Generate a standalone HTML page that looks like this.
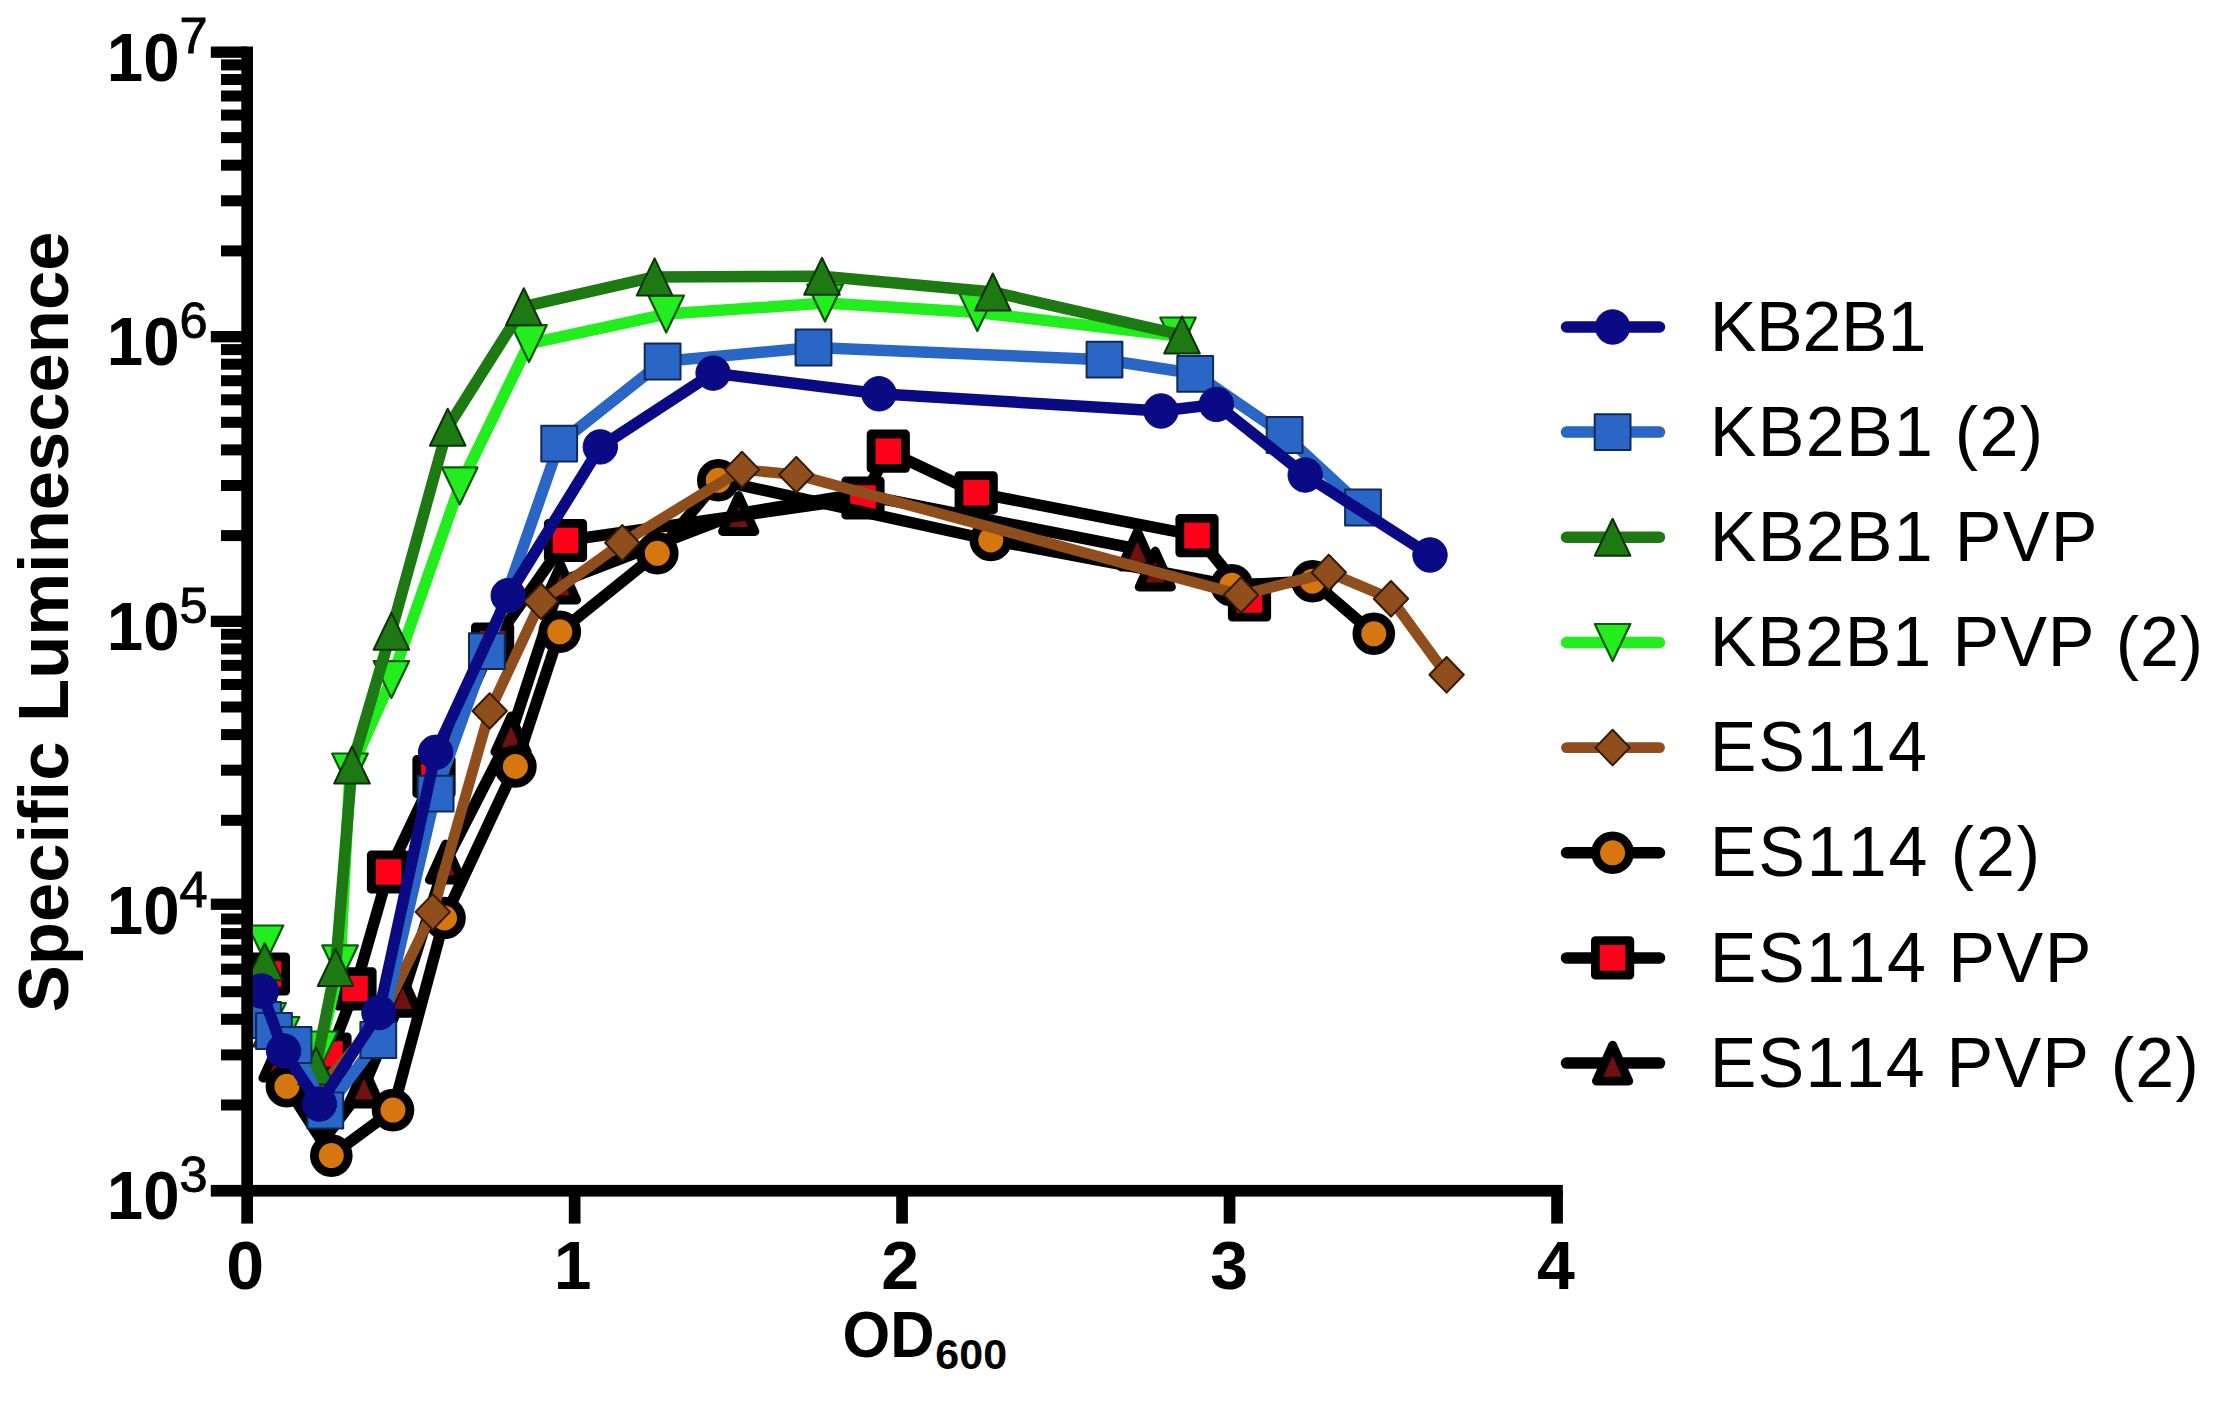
<!DOCTYPE html>
<html lang="en"><head><meta charset="utf-8"><title>Specific Luminescence vs OD600</title>
<style>html,body{margin:0;padding:0;background:#fff;}body{width:2217px;height:1404px;overflow:hidden;}svg{display:block;}text{font-family:"Liberation Sans",Arial,Helvetica,sans-serif;fill:#000;font-kerning:none;font-feature-settings:"kern" 0;}.b{font-weight:bold;}</style></head><body>
<svg width="2217" height="1404" viewBox="0 0 2217 1404">
<rect x="0" y="0" width="2217" height="1404" fill="#ffffff"/>
<g id="series">
<g>
<polyline fill="none" stroke="#000000" stroke-width="11.5" stroke-linejoin="round" stroke-linecap="round" points="279,1060 300,1090 328,1134 364,1086 402.7,995.3 445.5,862 511,733.8 560.5,582 738.7,513.5 858,494 1137.4,549 1155.3,569"/>
<polygon points="279,1042 295.2,1078 262.8,1078" fill="#701010" stroke="#000000" stroke-width="8.8" stroke-linejoin="round"/>
<polygon points="364,1068 380.2,1104 347.8,1104" fill="#701010" stroke="#000000" stroke-width="8.8" stroke-linejoin="round"/>
<polygon points="402.7,977.3 418.9,1013.3 386.5,1013.3" fill="#701010" stroke="#000000" stroke-width="8.8" stroke-linejoin="round"/>
<polygon points="445.5,844 461.7,880 429.3,880" fill="#701010" stroke="#000000" stroke-width="8.8" stroke-linejoin="round"/>
<polygon points="511,715.8 527.2,751.8 494.8,751.8" fill="#701010" stroke="#000000" stroke-width="8.8" stroke-linejoin="round"/>
<polygon points="560.5,564 576.7,600 544.3,600" fill="#701010" stroke="#000000" stroke-width="8.8" stroke-linejoin="round"/>
<polygon points="738.7,495.5 754.9,531.5 722.5,531.5" fill="#701010" stroke="#000000" stroke-width="8.8" stroke-linejoin="round"/>
<polygon points="1137.4,531 1153.6,567 1121.2,567" fill="#701010" stroke="#000000" stroke-width="8.8" stroke-linejoin="round"/>
<polygon points="1155.3,551 1171.5,587 1139.1,587" fill="#701010" stroke="#000000" stroke-width="8.8" stroke-linejoin="round"/>
</g>
<g>
<polyline fill="none" stroke="#000000" stroke-width="11.5" stroke-linejoin="round" stroke-linecap="round" points="268.4,974 275,1034 300,1063 330,1054 355,988.8 388.5,872 434,776.5 492.6,644 565.5,540.5 863,498 888.3,451.2 976.2,492.8 1197,535.6 1249.5,600"/>
<rect x="251.2" y="956.8" width="34.4" height="34.4" fill="#ff0018" stroke="#000000" stroke-width="8.8" stroke-linejoin="round"/>
<rect x="312.8" y="1036.8" width="34.4" height="34.4" fill="#ff0018" stroke="#000000" stroke-width="8.8" stroke-linejoin="round"/>
<rect x="337.8" y="971.6" width="34.4" height="34.4" fill="#ff0018" stroke="#000000" stroke-width="8.8" stroke-linejoin="round"/>
<rect x="371.3" y="854.8" width="34.4" height="34.4" fill="#ff0018" stroke="#000000" stroke-width="8.8" stroke-linejoin="round"/>
<rect x="416.8" y="759.3" width="34.4" height="34.4" fill="#ff0018" stroke="#000000" stroke-width="8.8" stroke-linejoin="round"/>
<rect x="475.4" y="626.8" width="34.4" height="34.4" fill="#ff0018" stroke="#000000" stroke-width="8.8" stroke-linejoin="round"/>
<rect x="548.3" y="523.3" width="34.4" height="34.4" fill="#ff0018" stroke="#000000" stroke-width="8.8" stroke-linejoin="round"/>
<rect x="845.8" y="480.8" width="34.4" height="34.4" fill="#ff0018" stroke="#000000" stroke-width="8.8" stroke-linejoin="round"/>
<rect x="871.1" y="434" width="34.4" height="34.4" fill="#ff0018" stroke="#000000" stroke-width="8.8" stroke-linejoin="round"/>
<rect x="959" y="475.6" width="34.4" height="34.4" fill="#ff0018" stroke="#000000" stroke-width="8.8" stroke-linejoin="round"/>
<rect x="1179.8" y="518.4" width="34.4" height="34.4" fill="#ff0018" stroke="#000000" stroke-width="8.8" stroke-linejoin="round"/>
<rect x="1232.3" y="582.8" width="34.4" height="34.4" fill="#ff0018" stroke="#000000" stroke-width="8.8" stroke-linejoin="round"/>
</g>
<g>
<polyline fill="none" stroke="#000000" stroke-width="11.5" stroke-linejoin="round" stroke-linecap="round" points="286.9,1086.3 331.3,1155.6 393,1110.1 444.5,918 515.4,766.5 559.8,631.8 657.3,553.3 718.3,480.3 990.8,540 1231.8,585.3 1312.5,581.2 1373.8,633.8"/>
<circle cx="286.9" cy="1086.3" r="16.9" fill="#d6760f" stroke="#000000" stroke-width="8.8" stroke-linejoin="round"/>
<circle cx="331.3" cy="1155.6" r="16.9" fill="#d6760f" stroke="#000000" stroke-width="8.8" stroke-linejoin="round"/>
<circle cx="393" cy="1110.1" r="16.9" fill="#d6760f" stroke="#000000" stroke-width="8.8" stroke-linejoin="round"/>
<circle cx="444.5" cy="918" r="16.9" fill="#d6760f" stroke="#000000" stroke-width="8.8" stroke-linejoin="round"/>
<circle cx="515.4" cy="766.5" r="16.9" fill="#d6760f" stroke="#000000" stroke-width="8.8" stroke-linejoin="round"/>
<circle cx="559.8" cy="631.8" r="16.9" fill="#d6760f" stroke="#000000" stroke-width="8.8" stroke-linejoin="round"/>
<circle cx="657.3" cy="553.3" r="16.9" fill="#d6760f" stroke="#000000" stroke-width="8.8" stroke-linejoin="round"/>
<circle cx="718.3" cy="480.3" r="16.9" fill="#d6760f" stroke="#000000" stroke-width="8.8" stroke-linejoin="round"/>
<circle cx="990.8" cy="540" r="16.9" fill="#d6760f" stroke="#000000" stroke-width="8.8" stroke-linejoin="round"/>
<circle cx="1231.8" cy="585.3" r="16.9" fill="#d6760f" stroke="#000000" stroke-width="8.8" stroke-linejoin="round"/>
<circle cx="1312.5" cy="581.2" r="16.9" fill="#d6760f" stroke="#000000" stroke-width="8.8" stroke-linejoin="round"/>
<circle cx="1373.8" cy="633.8" r="16.9" fill="#d6760f" stroke="#000000" stroke-width="8.8" stroke-linejoin="round"/>
</g>
<g>
<polyline fill="none" stroke="#8f4e1c" stroke-width="10.8" stroke-linejoin="round" stroke-linecap="round" points="262,1000 290,1058 322,1085 380,1020 432.7,911.9 489.7,711 541,601.3 622.3,542.8 742,469.6 796.3,474.7 1241,595 1328.8,572.5 1391,598.8 1446.6,674.8"/>
<polygon points="432.7,894.1 449.9,911.9 432.7,929.7 415.5,911.9" fill="#8f4e1c" stroke="#351b06" stroke-width="2" stroke-linejoin="round"/>
<polygon points="489.7,693.2 506.9,711 489.7,728.8 472.5,711" fill="#8f4e1c" stroke="#351b06" stroke-width="2" stroke-linejoin="round"/>
<polygon points="541,583.5 558.2,601.3 541,619.1 523.8,601.3" fill="#8f4e1c" stroke="#351b06" stroke-width="2" stroke-linejoin="round"/>
<polygon points="622.3,525 639.5,542.8 622.3,560.6 605.1,542.8" fill="#8f4e1c" stroke="#351b06" stroke-width="2" stroke-linejoin="round"/>
<polygon points="742,451.8 759.2,469.6 742,487.4 724.8,469.6" fill="#8f4e1c" stroke="#351b06" stroke-width="2" stroke-linejoin="round"/>
<polygon points="796.3,456.9 813.5,474.7 796.3,492.5 779.1,474.7" fill="#8f4e1c" stroke="#351b06" stroke-width="2" stroke-linejoin="round"/>
<polygon points="1241,577.2 1258.2,595 1241,612.8 1223.8,595" fill="#8f4e1c" stroke="#351b06" stroke-width="2" stroke-linejoin="round"/>
<polygon points="1328.8,554.7 1346,572.5 1328.8,590.3 1311.6,572.5" fill="#8f4e1c" stroke="#351b06" stroke-width="2" stroke-linejoin="round"/>
<polygon points="1391,581 1408.2,598.8 1391,616.6 1373.8,598.8" fill="#8f4e1c" stroke="#351b06" stroke-width="2" stroke-linejoin="round"/>
<polygon points="1446.6,657 1463.8,674.8 1446.6,692.6 1429.4,674.8" fill="#8f4e1c" stroke="#351b06" stroke-width="2" stroke-linejoin="round"/>
</g>
<g>
<polyline fill="none" stroke="#22ee1e" stroke-width="11.5" stroke-linejoin="round" stroke-linecap="round" points="265.5,944 261.5,993.5 268,1021.5 281.6,1035.5 320,1050 340.1,963.9 350,772 391.4,679.6 459.7,485.9 529,343.6 666.2,314.1 825,303 977.3,312.5 1178,336"/>
<polygon points="265.5,962.5 283.3,925.5 247.7,925.5" fill="#22ee1e" stroke="#0f560c" stroke-width="2.2" stroke-linejoin="round"/>
<polygon points="261.5,1012 279.3,975 243.7,975" fill="#22ee1e" stroke="#0f560c" stroke-width="2.2" stroke-linejoin="round"/>
<polygon points="268,1040 285.8,1003 250.2,1003" fill="#22ee1e" stroke="#0f560c" stroke-width="2.2" stroke-linejoin="round"/>
<polygon points="281.6,1054 299.4,1017 263.8,1017" fill="#22ee1e" stroke="#0f560c" stroke-width="2.2" stroke-linejoin="round"/>
<polygon points="320,1068.5 337.8,1031.5 302.2,1031.5" fill="#22ee1e" stroke="#0f560c" stroke-width="2.2" stroke-linejoin="round"/>
<polygon points="340.1,982.4 357.9,945.4 322.3,945.4" fill="#22ee1e" stroke="#0f560c" stroke-width="2.2" stroke-linejoin="round"/>
<polygon points="350,790.5 367.8,753.5 332.2,753.5" fill="#22ee1e" stroke="#0f560c" stroke-width="2.2" stroke-linejoin="round"/>
<polygon points="391.4,698.1 409.2,661.1 373.6,661.1" fill="#22ee1e" stroke="#0f560c" stroke-width="2.2" stroke-linejoin="round"/>
<polygon points="459.7,504.4 477.5,467.4 441.9,467.4" fill="#22ee1e" stroke="#0f560c" stroke-width="2.2" stroke-linejoin="round"/>
<polygon points="529,362.1 546.8,325.1 511.2,325.1" fill="#22ee1e" stroke="#0f560c" stroke-width="2.2" stroke-linejoin="round"/>
<polygon points="666.2,332.6 684,295.6 648.4,295.6" fill="#22ee1e" stroke="#0f560c" stroke-width="2.2" stroke-linejoin="round"/>
<polygon points="825,321.5 842.8,284.5 807.2,284.5" fill="#22ee1e" stroke="#0f560c" stroke-width="2.2" stroke-linejoin="round"/>
<polygon points="977.3,331 995.1,294 959.5,294" fill="#22ee1e" stroke="#0f560c" stroke-width="2.2" stroke-linejoin="round"/>
<polygon points="1178,354.5 1195.8,317.5 1160.2,317.5" fill="#22ee1e" stroke="#0f560c" stroke-width="2.2" stroke-linejoin="round"/>
</g>
<g>
<polyline fill="none" stroke="#1d7a12" stroke-width="11.5" stroke-linejoin="round" stroke-linecap="round" points="264.7,961.7 262,1004 271,1028 289,1044 316,1066 335.6,967.5 352,765 391.4,631.2 447.7,427.2 523.8,306.7 654.6,276.9 822,276.3 992.8,292 1182,335"/>
<polygon points="264.7,943.2 282.5,980.2 246.9,980.2" fill="#1d7a12" stroke="#0b3207" stroke-width="2" stroke-linejoin="round"/>
<polygon points="262,985.5 279.8,1022.5 244.2,1022.5" fill="#1d7a12" stroke="#0b3207" stroke-width="2" stroke-linejoin="round"/>
<polygon points="271,1009.5 288.8,1046.5 253.2,1046.5" fill="#1d7a12" stroke="#0b3207" stroke-width="2" stroke-linejoin="round"/>
<polygon points="289,1025.5 306.8,1062.5 271.2,1062.5" fill="#1d7a12" stroke="#0b3207" stroke-width="2" stroke-linejoin="round"/>
<polygon points="316,1047.5 333.8,1084.5 298.2,1084.5" fill="#1d7a12" stroke="#0b3207" stroke-width="2" stroke-linejoin="round"/>
<polygon points="335.6,949 353.4,986 317.8,986" fill="#1d7a12" stroke="#0b3207" stroke-width="2" stroke-linejoin="round"/>
<polygon points="352,746.5 369.8,783.5 334.2,783.5" fill="#1d7a12" stroke="#0b3207" stroke-width="2" stroke-linejoin="round"/>
<polygon points="391.4,612.7 409.2,649.7 373.6,649.7" fill="#1d7a12" stroke="#0b3207" stroke-width="2" stroke-linejoin="round"/>
<polygon points="447.7,408.7 465.5,445.7 429.9,445.7" fill="#1d7a12" stroke="#0b3207" stroke-width="2" stroke-linejoin="round"/>
<polygon points="523.8,288.2 541.6,325.2 506,325.2" fill="#1d7a12" stroke="#0b3207" stroke-width="2" stroke-linejoin="round"/>
<polygon points="654.6,258.4 672.4,295.4 636.8,295.4" fill="#1d7a12" stroke="#0b3207" stroke-width="2" stroke-linejoin="round"/>
<polygon points="822,257.8 839.8,294.8 804.2,294.8" fill="#1d7a12" stroke="#0b3207" stroke-width="2" stroke-linejoin="round"/>
<polygon points="992.8,273.5 1010.6,310.5 975,310.5" fill="#1d7a12" stroke="#0b3207" stroke-width="2" stroke-linejoin="round"/>
<polygon points="1182,316.5 1199.8,353.5 1164.2,353.5" fill="#1d7a12" stroke="#0b3207" stroke-width="2" stroke-linejoin="round"/>
</g>
<g>
<polyline fill="none" stroke="#2a66c6" stroke-width="11.5" stroke-linejoin="round" stroke-linecap="round" points="263,1020 274,1031 293.5,1045 325.3,1110.5 378.3,1040 435.6,793.6 486.9,651.1 559.2,443.6 662.6,361.5 813.5,347.5 1104.5,359.7 1195.2,373.8 1284.6,435 1363,507.5"/>
<rect x="245.1" y="1002.1" width="35.8" height="35.8" fill="#2a66c6" stroke="#0f2a58" stroke-width="2" stroke-linejoin="round"/>
<rect x="256.1" y="1013.1" width="35.8" height="35.8" fill="#2a66c6" stroke="#0f2a58" stroke-width="2" stroke-linejoin="round"/>
<rect x="275.6" y="1027.1" width="35.8" height="35.8" fill="#2a66c6" stroke="#0f2a58" stroke-width="2" stroke-linejoin="round"/>
<rect x="307.4" y="1092.6" width="35.8" height="35.8" fill="#2a66c6" stroke="#0f2a58" stroke-width="2" stroke-linejoin="round"/>
<rect x="360.4" y="1022.1" width="35.8" height="35.8" fill="#2a66c6" stroke="#0f2a58" stroke-width="2" stroke-linejoin="round"/>
<rect x="417.7" y="775.7" width="35.8" height="35.8" fill="#2a66c6" stroke="#0f2a58" stroke-width="2" stroke-linejoin="round"/>
<rect x="469" y="633.2" width="35.8" height="35.8" fill="#2a66c6" stroke="#0f2a58" stroke-width="2" stroke-linejoin="round"/>
<rect x="541.3" y="425.7" width="35.8" height="35.8" fill="#2a66c6" stroke="#0f2a58" stroke-width="2" stroke-linejoin="round"/>
<rect x="644.7" y="343.6" width="35.8" height="35.8" fill="#2a66c6" stroke="#0f2a58" stroke-width="2" stroke-linejoin="round"/>
<rect x="795.6" y="329.6" width="35.8" height="35.8" fill="#2a66c6" stroke="#0f2a58" stroke-width="2" stroke-linejoin="round"/>
<rect x="1086.6" y="341.8" width="35.8" height="35.8" fill="#2a66c6" stroke="#0f2a58" stroke-width="2" stroke-linejoin="round"/>
<rect x="1177.3" y="355.9" width="35.8" height="35.8" fill="#2a66c6" stroke="#0f2a58" stroke-width="2" stroke-linejoin="round"/>
<rect x="1266.7" y="417.1" width="35.8" height="35.8" fill="#2a66c6" stroke="#0f2a58" stroke-width="2" stroke-linejoin="round"/>
<rect x="1345.1" y="489.6" width="35.8" height="35.8" fill="#2a66c6" stroke="#0f2a58" stroke-width="2" stroke-linejoin="round"/>
</g>
<g>
<polyline fill="none" stroke="#0a0a84" stroke-width="11.5" stroke-linejoin="round" stroke-linecap="round" points="261.4,991 283.6,1051 319.4,1104 378.9,1012.6 435.6,752.3 508.2,595.6 600.3,446.9 713.1,373.1 879,393.8 1161,411 1216.4,404.4 1305.2,475 1430,555"/>
<circle cx="261.4" cy="991" r="17.2" fill="#0a0a84" stroke="#0a0a84" stroke-width="1" stroke-linejoin="round"/>
<circle cx="283.6" cy="1051" r="17.2" fill="#0a0a84" stroke="#0a0a84" stroke-width="1" stroke-linejoin="round"/>
<circle cx="319.4" cy="1104" r="17.2" fill="#0a0a84" stroke="#0a0a84" stroke-width="1" stroke-linejoin="round"/>
<circle cx="378.9" cy="1012.6" r="17.2" fill="#0a0a84" stroke="#0a0a84" stroke-width="1" stroke-linejoin="round"/>
<circle cx="435.6" cy="752.3" r="17.2" fill="#0a0a84" stroke="#0a0a84" stroke-width="1" stroke-linejoin="round"/>
<circle cx="508.2" cy="595.6" r="17.2" fill="#0a0a84" stroke="#0a0a84" stroke-width="1" stroke-linejoin="round"/>
<circle cx="600.3" cy="446.9" r="17.2" fill="#0a0a84" stroke="#0a0a84" stroke-width="1" stroke-linejoin="round"/>
<circle cx="713.1" cy="373.1" r="17.2" fill="#0a0a84" stroke="#0a0a84" stroke-width="1" stroke-linejoin="round"/>
<circle cx="879" cy="393.8" r="17.2" fill="#0a0a84" stroke="#0a0a84" stroke-width="1" stroke-linejoin="round"/>
<circle cx="1161" cy="411" r="17.2" fill="#0a0a84" stroke="#0a0a84" stroke-width="1" stroke-linejoin="round"/>
<circle cx="1216.4" cy="404.4" r="17.2" fill="#0a0a84" stroke="#0a0a84" stroke-width="1" stroke-linejoin="round"/>
<circle cx="1305.2" cy="475" r="17.2" fill="#0a0a84" stroke="#0a0a84" stroke-width="1" stroke-linejoin="round"/>
<circle cx="1430" cy="555" r="17.2" fill="#0a0a84" stroke="#0a0a84" stroke-width="1" stroke-linejoin="round"/>
</g>
</g>
<g id="axes" fill="#000" stroke="none">
<rect x="241.3" y="46.5" width="11.7" height="1177.1"/>
<rect x="210.8" y="1184.9" width="1352" height="11.7"/>
<rect x="568.8" y="1190.7" width="11.7" height="32.9"/>
<rect x="896.2" y="1190.7" width="11.7" height="32.9"/>
<rect x="1223.7" y="1190.7" width="11.7" height="32.9"/>
<rect x="1551.2" y="1190.7" width="11.7" height="32.9"/>
<rect x="221" y="1099.5" width="26.2" height="11"/>
<rect x="221" y="1049.4" width="26.2" height="11"/>
<rect x="221" y="1013.8" width="26.2" height="11"/>
<rect x="221" y="986.2" width="26.2" height="11"/>
<rect x="221" y="963.7" width="26.2" height="11"/>
<rect x="221" y="944.6" width="26.2" height="11"/>
<rect x="221" y="928.1" width="26.2" height="11"/>
<rect x="221" y="913.5" width="26.2" height="11"/>
<rect x="210.8" y="898.6" width="36.4" height="11.3"/>
<rect x="221" y="814.8" width="26.2" height="11"/>
<rect x="221" y="764.7" width="26.2" height="11"/>
<rect x="221" y="729.1" width="26.2" height="11"/>
<rect x="221" y="701.5" width="26.2" height="11"/>
<rect x="221" y="679" width="26.2" height="11"/>
<rect x="221" y="659.9" width="26.2" height="11"/>
<rect x="221" y="643.4" width="26.2" height="11"/>
<rect x="221" y="628.8" width="26.2" height="11"/>
<rect x="210.8" y="615.7" width="36.4" height="11.3"/>
<rect x="221" y="530.1" width="26.2" height="11"/>
<rect x="221" y="480" width="26.2" height="11"/>
<rect x="221" y="444.4" width="26.2" height="11"/>
<rect x="221" y="416.8" width="26.2" height="11"/>
<rect x="221" y="394.3" width="26.2" height="11"/>
<rect x="221" y="375.2" width="26.2" height="11"/>
<rect x="221" y="358.7" width="26.2" height="11"/>
<rect x="221" y="344.1" width="26.2" height="11"/>
<rect x="210.8" y="331" width="36.4" height="11.3"/>
<rect x="221" y="245.4" width="26.2" height="11"/>
<rect x="221" y="195.3" width="26.2" height="11"/>
<rect x="221" y="159.7" width="26.2" height="11"/>
<rect x="221" y="132.1" width="26.2" height="11"/>
<rect x="221" y="109.6" width="26.2" height="11"/>
<rect x="221" y="90.5" width="26.2" height="11"/>
<rect x="221" y="74" width="26.2" height="11"/>
<rect x="221" y="59.4" width="26.2" height="11"/>
<rect x="210.8" y="46.5" width="36.4" height="11.3"/>
</g>
<g id="ticklabels">
<text class="b" x="245.2" y="1288.6" font-size="68" text-anchor="middle">0</text>
<text class="b" x="572.6" y="1288.6" font-size="68" text-anchor="middle">1</text>
<text class="b" x="900.1" y="1288.6" font-size="68" text-anchor="middle">2</text>
<text class="b" x="1229.2" y="1288.6" font-size="68" text-anchor="middle">3</text>
<text class="b" x="1556" y="1288.6" font-size="68" text-anchor="middle">4</text>
<text class="b" transform="translate(179.6,1219.1) scale(0.962,1)" font-size="68" text-anchor="end">10</text>
<text x="179.6" y="1192" font-size="50.5" text-anchor="start" stroke="#000" stroke-width="0.9">3</text>
<text class="b" transform="translate(179.6,934.4) scale(0.962,1)" font-size="68" text-anchor="end">10</text>
<text x="179.6" y="907.3" font-size="50.5" text-anchor="start" stroke="#000" stroke-width="0.9">4</text>
<text class="b" transform="translate(179.6,649.7) scale(0.962,1)" font-size="68" text-anchor="end">10</text>
<text x="179.6" y="622.6" font-size="50.5" text-anchor="start" stroke="#000" stroke-width="0.9">5</text>
<text class="b" transform="translate(179.6,365) scale(0.962,1)" font-size="68" text-anchor="end">10</text>
<text x="179.6" y="337.9" font-size="50.5" text-anchor="start" stroke="#000" stroke-width="0.9">6</text>
<text class="b" transform="translate(179.6,80.5) scale(0.962,1)" font-size="68" text-anchor="end">10</text>
<text x="179.6" y="53.4" font-size="50.5" text-anchor="start" stroke="#000" stroke-width="0.9">7</text>
</g>
<g id="titles">
<text class="b" transform="translate(68.3,1012.3) rotate(-90)" font-size="70.6">Specific Luminescence</text>
<text class="b" transform="translate(842.6,1357) scale(0.937,1)" font-size="65.5">OD</text>
<text class="b" x="935.3" y="1369.2" font-size="43">600</text>
</g>
<g id="legend">
<line x1="1566.5" y1="327" x2="1659.5" y2="327" stroke="#0a0a84" stroke-width="11.5" stroke-linecap="round"/>
<circle cx="1612.6" cy="327" r="17.2" fill="#0a0a84" stroke="#0a0a84" stroke-width="1" stroke-linejoin="round"/>
<text x="1709.7" y="350.6" font-size="70" letter-spacing="-0.3">KB2B1</text>
<line x1="1566.5" y1="432.1" x2="1659.5" y2="432.1" stroke="#2a66c6" stroke-width="11.5" stroke-linecap="round"/>
<rect x="1594.7" y="414.2" width="35.8" height="35.8" fill="#2a66c6" stroke="#0f2a58" stroke-width="2" stroke-linejoin="round"/>
<text x="1709.7" y="455.8" font-size="70" letter-spacing="1.3">KB2B1 (2)</text>
<line x1="1566.5" y1="537.3" x2="1659.5" y2="537.3" stroke="#1d7a12" stroke-width="11.5" stroke-linecap="round"/>
<polygon points="1612.6,518.8 1630.4,555.8 1594.8,555.8" fill="#1d7a12" stroke="#0b3207" stroke-width="2" stroke-linejoin="round"/>
<text x="1709.7" y="560.9" font-size="70" letter-spacing="1.28">KB2B1 PVP</text>
<line x1="1566.5" y1="642.5" x2="1659.5" y2="642.5" stroke="#22ee1e" stroke-width="11.5" stroke-linecap="round"/>
<polygon points="1612.6,661 1630.4,624 1594.8,624" fill="#22ee1e" stroke="#0f560c" stroke-width="2.2" stroke-linejoin="round"/>
<text x="1709.7" y="666.1" font-size="70" letter-spacing="0.92">KB2B1 PVP (2)</text>
<line x1="1566.5" y1="747.6" x2="1659.5" y2="747.6" stroke="#8f4e1c" stroke-width="10.8" stroke-linecap="round"/>
<polygon points="1612.6,729.8 1629.8,747.6 1612.6,765.4 1595.4,747.6" fill="#8f4e1c" stroke="#351b06" stroke-width="2" stroke-linejoin="round"/>
<text x="1709.7" y="771.2" font-size="70" letter-spacing="1.75">ES114</text>
<line x1="1566.5" y1="852.8" x2="1659.5" y2="852.8" stroke="#000000" stroke-width="11.5" stroke-linecap="round"/>
<circle cx="1612.6" cy="852.8" r="16.9" fill="#d6760f" stroke="#000000" stroke-width="8.8" stroke-linejoin="round"/>
<text x="1709.7" y="876.4" font-size="70" letter-spacing="1.9">ES114 (2)</text>
<line x1="1566.5" y1="957.9" x2="1659.5" y2="957.9" stroke="#000000" stroke-width="11.5" stroke-linecap="round"/>
<rect x="1595.4" y="940.7" width="34.4" height="34.4" fill="#ff0018" stroke="#000000" stroke-width="8.8" stroke-linejoin="round"/>
<text x="1709.7" y="981.5" font-size="70" letter-spacing="1.5">ES114 PVP</text>
<line x1="1566.5" y1="1063.1" x2="1659.5" y2="1063.1" stroke="#000000" stroke-width="11.5" stroke-linecap="round"/>
<polygon points="1612.6,1045.1 1628.8,1081.1 1596.4,1081.1" fill="#701010" stroke="#000000" stroke-width="8.8" stroke-linejoin="round"/>
<text x="1709.7" y="1086.7" font-size="70" letter-spacing="1.2">ES114 PVP (2)</text>
</g>
</svg></body></html>
